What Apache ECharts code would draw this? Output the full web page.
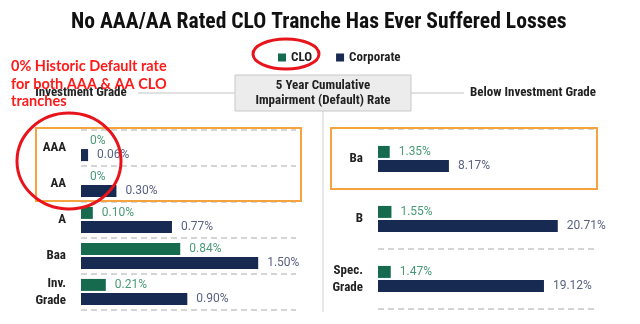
<!DOCTYPE html>
<html>
<head>
<meta charset="utf-8">
<script src="https://cdn.jsdelivr.net/npm/echarts@6/dist/echarts.min.js"></script>
<style>html,body{margin:0;padding:0;background:#fff}#c{width:640px;height:324px}</style>
</head>
<body>
<div id="c"></div>
<script>
const titleText = 'No AAA/AA Rated CLO Tranche Has Ever Suffered Losses';
const seriesNames = ['CLO', 'Corporate'];
const leftCategories = ['AAA', 'AA', 'A', 'Baa', 'Inv.\nGrade'];
const leftCLO = [0, 0, 0.10, 0.84, 0.21];
const leftCorporate = [0.06, 0.30, 0.77, 1.50, 0.90];
const rightCategories = ['Ba', 'B', 'Spec.\nGrade'];
const rightCLO = [1.35, 1.55, 1.47];
const rightCorporate = [8.17, 20.71, 19.12];
const headerLeft = 'Investment Grade';
const headerRight = 'Below Investment Grade';
const headerCenter = ['5 Year Cumulative', 'Impairment (Default) Rate'];
const noteLines = ['0% Historic Default rate', 'for both AAA & AA CLO', 'tranches'];

const COND = '"Roboto Condensed","Liberation Sans Narrow","DejaVu Sans Condensed",sans-serif';
const GREEN = '#166b4e', NAVY = '#172a52';
const fmt = p => (p.value === 0 ? '0%' : p.value.toFixed(2) + '%');

function barSeries(name, data, idx, color, labelColor) {
  return {
    type: 'bar', name: name, data: data,
    xAxisIndex: idx, yAxisIndex: idx,
    barWidth: 12, barGap: '18%',
    itemStyle: { color: color },
    label: { show: true, position: 'right', distance: 9, formatter: fmt,
      color: labelColor, fontFamily: 'Roboto', fontSize: 12 }
  };
}
const yAxisCommon = {
  type: 'category', inverse: true,
  axisLine: { show: false }, axisTick: { show: false },
  axisLabel: { margin: 15, fontFamily: COND, fontWeight: 'bold', fontSize: 13, color: '#222', lineHeight: 17 },
  splitLine: { show: true, lineStyle: { color: '#c8c8c8', type: [6, 4], width: 1.5 } }
};
const xAxisCommon = { type: 'value', min: 0, show: false, splitLine: { show: false } };

const chart = echarts.init(document.getElementById('c'), null, { renderer: 'canvas' });
chart.setOption({
  animation: false,
  title: { text: titleText, left: 66, top: 7,
    textStyle: { fontFamily: COND, fontWeight: 'bold', fontSize: 21.6, color: '#111' } },
  legend: { data: seriesNames, left: 273, top: 46, itemWidth: 8, itemHeight: 8, itemGap: 24,
    icon: 'rect', textStyle: { fontFamily: COND, fontWeight: 'bold', fontSize: 13, color: '#222' } },
  grid: [
    { left: 81, width: 215, top: 130, height: 180 },
    { left: 378, width: 217, top: 129, height: 180 }
  ],
  xAxis: [
    Object.assign({ gridIndex: 0, max: 1.82 }, xAxisCommon),
    Object.assign({ gridIndex: 1, max: 25 }, xAxisCommon)
  ],
  yAxis: [
    Object.assign({ gridIndex: 0, data: leftCategories }, yAxisCommon),
    Object.assign({ gridIndex: 1, data: rightCategories }, yAxisCommon)
  ],
  series: [
    barSeries('CLO', leftCLO, 0, GREEN, '#4a9a78'),
    barSeries('Corporate', leftCorporate, 0, NAVY, '#5a6282'),
    barSeries('CLO', rightCLO, 1, GREEN, '#4a9a78'),
    barSeries('Corporate', rightCorporate, 1, NAVY, '#5a6282')
  ],
  graphic: [
    { type: 'line', shape: { x1: 138, y1: 93, x2: 235, y2: 93 }, style: { stroke: '#c4c4c4', lineWidth: 1 } },
    { type: 'line', shape: { x1: 411, y1: 93, x2: 464, y2: 93 }, style: { stroke: '#c4c4c4', lineWidth: 1 } },
    { type: 'line', shape: { x1: 323, y1: 111, x2: 323, y2: 312 }, style: { stroke: '#cfcfcf', lineWidth: 1 } },
    { type: 'rect', shape: { x: 235, y: 75, width: 176, height: 36 }, style: { fill: '#ececec', stroke: '#c8c8c8', lineWidth: 1 } },
    { type: 'text', style: { text: headerCenter.join('\n'), x: 323, y: 93, align: 'center', verticalAlign: 'middle',
      font: 'bold 13px ' + COND, fill: '#222', lineHeight: 15 } },
    { type: 'text', style: { text: headerLeft, x: 81, y: 93, align: 'center', verticalAlign: 'middle',
      font: 'bold 13px ' + COND, fill: '#222' } },
    { type: 'text', style: { text: headerRight, x: 533, y: 93, align: 'center', verticalAlign: 'middle',
      font: 'bold 13px ' + COND, fill: '#222' } },
    { type: 'rect', z: 100, shape: { x: 36, y: 128, width: 265, height: 73 }, style: { fill: 'none', stroke: '#f5a340', lineWidth: 2 } },
    { type: 'rect', z: 100, shape: { x: 331, y: 128, width: 266, height: 61 }, style: { fill: 'none', stroke: '#f5a340', lineWidth: 2 } },
    { type: 'text', z: 110, style: { text: noteLines.join('\n'), x: 11, y: 58, font: 'bold 14.5px Lato,"Liberation Sans",sans-serif',
      fill: '#ff1a1a', lineHeight: 17.5 } },
    { type: 'ellipse', z: 120, shape: { cx: 286, cy: 54, rx: 33, ry: 15 }, style: { fill: 'none', stroke: '#e8141c', lineWidth: 3 } },
    { type: 'ellipse', z: 120, shape: { cx: 69, cy: 161, rx: 52, ry: 48 }, style: { fill: 'none', stroke: '#e8141c', lineWidth: 3 } }
  ]
});
</script>
</body>
</html>
